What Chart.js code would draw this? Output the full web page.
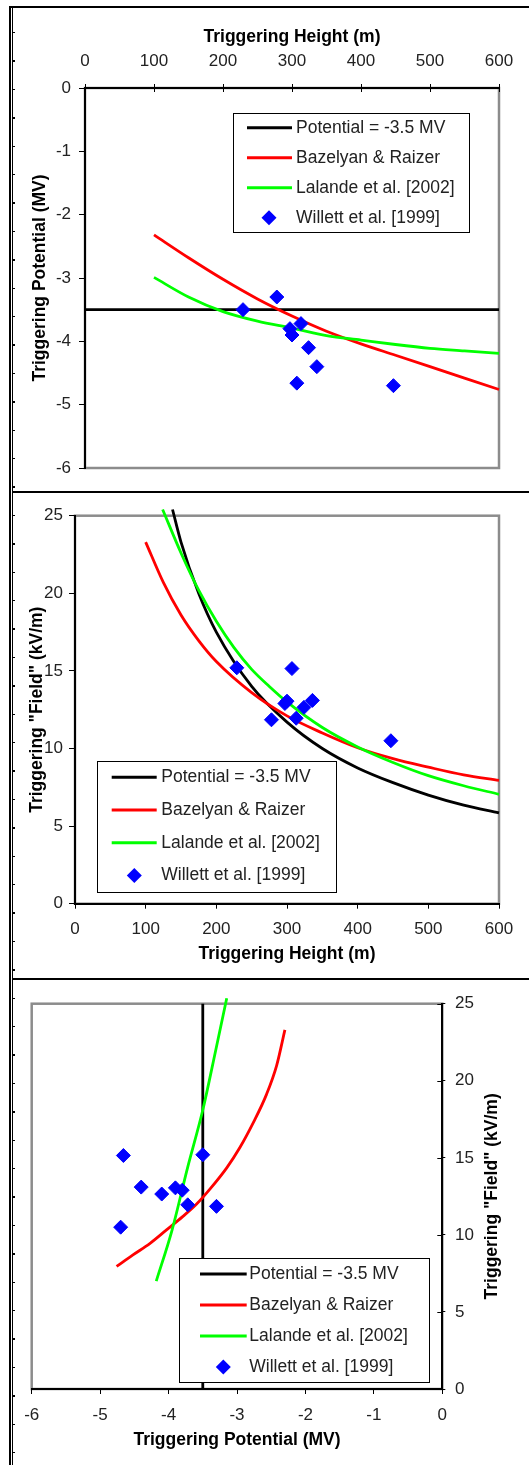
<!DOCTYPE html>
<html>
<head>
<meta charset="utf-8">
<script src="https://cdn.jsdelivr.net/npm/chart.js@4.4.1/dist/chart.umd.min.js"></script>
<style>
  html, body { margin: 0; padding: 0; background: #fff; }
  #page { position: relative; width: 529px; height: 1465px; overflow: hidden; background: #fff; }
  canvas { position: absolute; left: 0; }
  #c1 { top: 0; }
  #c2 { top: 492px; }
  #c3 { top: 980px; }
  .rule { position: absolute; background: #000; }
  #ruler { position: absolute; left: 12px; top: 8px; width: 3px; height: 1457px;
    background: repeating-linear-gradient(to bottom, transparent 0, transparent 24px, #000 24px, #000 25.4px, transparent 25.4px, transparent 28.4px); }
</style>
</head>
<body>
<div id="page">
  <canvas id="c1" width="529" height="490"></canvas>
  <canvas id="c2" width="529" height="486"></canvas>
  <canvas id="c3" width="529" height="485"></canvas>
  <div class="rule" style="left:9px;top:6px;width:520px;height:2px"></div>
  <div class="rule" style="left:9px;top:6px;width:2px;height:1459px"></div>
  <div class="rule" style="left:12px;top:8px;width:1px;height:1457px"></div>
  <div id="ruler"></div>
  <div class="rule" style="left:12px;top:491px;width:517px;height:1.5px"></div>
  <div class="rule" style="left:12px;top:978px;width:517px;height:1.5px"></div>
</div>
<script>
// --- panel 1: triggering potential vs height ---
const potHeights = [100, 150, 200, 250, 300, 350, 400, 450, 500, 550, 600];
const bazelyanPot = [-2.32, -2.68, -3.02, -3.33, -3.60, -3.84, -4.04, -4.22, -4.40, -4.58, -4.76];
const lalandePot = [-2.99, -3.30, -3.53, -3.68, -3.79, -3.91, -3.98, -4.05, -4.11, -4.15, -4.19];
const constPotHeights = [0, 600];
const constPot = [-3.5, -3.5];

// --- panel 2: triggering field vs height ---
const bazelyanFieldHeights = [100, 125, 150, 175, 200, 250, 300, 350, 400, 450, 500, 550, 600];
const bazelyanField = [23.3, 20.7, 18.6, 16.95, 15.6, 13.6, 12.1, 11.0, 10.05, 9.35, 8.8, 8.3, 7.95];
const lalandeFieldHeights = [124, 150, 175, 200, 225, 250, 275, 300, 350, 400, 450, 500, 550, 600];
const lalandeField = [25.4, 22.6, 20.2, 18.2, 16.5, 15.1, 14.0, 13.0, 11.35, 10.1, 9.1, 8.25, 7.6, 7.05];
const constFieldHeights = [138, 150, 175, 200, 250, 300, 350, 400, 450, 500, 550, 600];
const constField = [25.4, 23.3, 20.0, 17.5, 14.0, 11.7, 10.0, 8.75, 7.8, 7.0, 6.35, 5.85];

// --- panel 3: field vs potential ---
const bazelyanCurvePot = [-4.76, -4.52, -4.27, -4.03, -3.79, -3.59, -3.39, -3.15, -2.96, -2.76, -2.57, -2.42, -2.30];
const bazelyanCurveField = [7.95, 8.70, 9.45, 10.32, 11.2, 12.0, 13.0, 14.35, 15.65, 17.3, 19.1, 21.0, 23.3];
const lalandeCurvePot = [-4.18, -3.95, -3.72, -3.50, -3.31, -3.15];
const lalandeCurveField = [7.0, 10.3, 14.4, 18.1, 22.0, 25.35];
const constLinePot = [-3.5, -3.5];
const constLineField = [0, 25];

// --- Willett et al. [1999] measurements ---
const willettHeight = [229, 278, 297, 300, 313, 324, 336, 307, 447];
const willettPotential = [-3.50, -3.30, -3.80, -3.90, -3.72, -4.10, -4.40, -4.66, -4.70];
const willettField = [15.2, 11.85, 12.9, 13.05, 11.95, 12.65, 13.1, 15.15, 10.5];

const labels = ['Potential = -3.5 MV', 'Bazelyan & Raizer', 'Lalande et al. [2002]', 'Willett et al. [1999]'];
const colores = { negro: '#000000', rojo: '#ff0000', verde: '#00ff00', azul: '#0000ff' };
const fuente = '"Liberation Sans", Arial, sans-serif';

Chart.defaults.font.family = fuente;

const xy = (xs, ys) => xs.map((x, i) => ({ x: x, y: ys[i] }));

function lineSet(label, pts, color, order) {
  return {
    label, data: pts, showLine: true, borderColor: color, backgroundColor: color,
    borderWidth: 2.8, pointRadius: 0, cubicInterpolationMode: 'monotone', clip: false, order
  };
}

function pointSet(label, pts) {
  return {
    label, data: pts, showLine: false, pointStyle: 'rectRot', pointRadius: 7,
    pointBorderWidth: 1, pointBackgroundColor: colores.azul, pointBorderColor: colores.azul,
    backgroundColor: colores.azul, borderColor: colores.azul, clip: false, order: 0
  };
}

function axis(o) {
  return {
    type: 'linear', position: o.position, min: o.min, max: o.max,
    afterFit: s => { if (s.isHorizontal()) s.height = o.size; else s.width = o.size; },
    border: { display: true, color: '#000', width: 2 },
    grid: { display: true, drawOnChartArea: false, drawTicks: true, tickLength: o.tickLen, color: '#000', lineWidth: 1 },
    ticks: { stepSize: o.step, padding: o.tickPad, color: '#222', font: { size: 17 }, maxRotation: 0, autoSkip: false },
    title: o.title
      ? { display: true, text: o.title, color: '#000', font: { size: 17.5, weight: 'bold' }, padding: o.titlePad }
      : { display: false }
  };
}

// gray plot-area frame (axes are drawn over it in black)
const plotFrame = {
  id: 'plotFrame',
  beforeDraw(chart) {
    const a = chart.chartArea, ctx = chart.ctx;
    ctx.save();
    ctx.strokeStyle = '#8c8c8c';
    ctx.lineWidth = 2.5;
    ctx.strokeRect(a.left, a.top, a.right - a.left, a.bottom - a.top);
    ctx.restore();
  }
};

// tick marks that cross into the plot area
const innerTicks = {
  id: 'innerTicks',
  afterDraw(chart, args, opts) {
    if (!opts.axes) return;
    const ctx = chart.ctx, a = chart.chartArea;
    ctx.save();
    ctx.strokeStyle = '#000';
    ctx.lineWidth = 1;
    opts.axes.forEach(id => {
      const s = chart.scales[id];
      s.ticks.forEach((t, i) => {
        const p = Math.round(s.getPixelForTick(i)) + 0.5;
        ctx.beginPath();
        if (s.isHorizontal()) {
          const y0 = s.position === 'top' ? a.top : a.bottom;
          const dir = s.position === 'top' ? 1 : -1;
          ctx.moveTo(p, y0);
          ctx.lineTo(p, y0 + dir * opts.length);
        } else {
          const x0 = s.position === 'right' ? a.right : a.left;
          const dir = s.position === 'right' ? -1 : 1;
          ctx.moveTo(x0, p);
          ctx.lineTo(x0 + dir * opts.length, p);
        }
        ctx.stroke();
      });
    });
    ctx.restore();
  }
};

function diamond(ctx, x, y, r) {
  ctx.beginPath();
  ctx.moveTo(x - r, y);
  ctx.lineTo(x, y - r);
  ctx.lineTo(x + r, y);
  ctx.lineTo(x, y + r);
  ctx.closePath();
  ctx.fill();
}

// boxed legend placed inside the plot like the Excel original
const boxLegend = {
  id: 'boxLegend',
  afterDatasetsDraw(chart, args, o) {
    if (o.x === undefined) return;
    const ctx = chart.ctx;
    ctx.save();
    ctx.fillStyle = '#fff';
    ctx.fillRect(o.x, o.y, o.w, o.h);
    ctx.strokeStyle = '#000';
    ctx.lineWidth = 1;
    ctx.strokeRect(Math.round(o.x) + 0.5, Math.round(o.y) + 0.5, Math.round(o.w), Math.round(o.h));
    ctx.font = '17.5px ' + fuente;
    ctx.textBaseline = 'middle';
    ctx.textAlign = 'left';
    chart.data.datasets.forEach((ds, i) => {
      const y = o.y + o.first + i * o.step;
      if (ds.showLine) {
        ctx.strokeStyle = ds.borderColor;
        ctx.lineWidth = 3;
        ctx.beginPath();
        ctx.moveTo(o.lineX1, y);
        ctx.lineTo(o.lineX2, y);
        ctx.stroke();
      } else {
        ctx.fillStyle = ds.pointBackgroundColor;
        diamond(ctx, o.markerX, y, 7.5);
      }
      ctx.fillStyle = '#222';
      ctx.fillText(ds.label, o.textX, y);
    });
    ctx.restore();
  }
};

// right-hand axis title that reads bottom-to-top
const sideTitle = {
  id: 'sideTitle',
  afterDraw(chart, args, o) {
    if (!o.text) return;
    const ctx = chart.ctx, a = chart.chartArea;
    ctx.save();
    ctx.translate(o.x, (a.top + a.bottom) / 2);
    ctx.rotate(-Math.PI / 2);
    ctx.font = 'bold 17.5px ' + fuente;
    ctx.fillStyle = '#000';
    ctx.textAlign = 'center';
    ctx.textBaseline = 'middle';
    ctx.fillText(o.text, 0, 0);
    ctx.restore();
  }
};

const basePlugins = [plotFrame, boxLegend, innerTicks, sideTitle];

// panel 1
new Chart(document.getElementById('c1'), {
  type: 'scatter',
  data: {
    datasets: [
      lineSet(labels[0], xy(constPotHeights, constPot), colores.negro, 3),
      lineSet(labels[1], xy(potHeights, bazelyanPot), colores.rojo, 2),
      lineSet(labels[2], xy(potHeights, lalandePot), colores.verde, 1),
      pointSet(labels[3], xy(willettHeight, willettPotential))
    ]
  },
  options: {
    responsive: false, animation: false,
    layout: { padding: { left: 0, right: 30, top: 0, bottom: 22 } },
    scales: {
      x: axis({ position: 'top', min: 0, max: 600, step: 100, size: 88, tickLen: 4, tickPad: 12,
        title: 'Triggering Height (m)', titlePad: { top: 26.5, bottom: 0 } }),
      y: axis({ position: 'left', min: -6, max: 0, step: 1, size: 85, tickLen: 6, tickPad: 8,
        title: 'Triggering Potential (MV)', titlePad: { top: 30, bottom: 0 } })
    },
    plugins: {
      legend: { display: false }, tooltip: { enabled: false },
      boxLegend: { x: 233, y: 113, w: 236, h: 119, first: 14.7, step: 30, lineX1: 247, lineX2: 292, markerX: 269, textX: 296 },
      innerTicks: { axes: ['x'], length: 4 },
      sideTitle: {}
    }
  },
  plugins: basePlugins
});

// panel 2
new Chart(document.getElementById('c2'), {
  type: 'scatter',
  data: {
    datasets: [
      lineSet(labels[0], xy(constFieldHeights, constField), colores.negro, 3),
      lineSet(labels[1], xy(bazelyanFieldHeights, bazelyanField), colores.rojo, 2),
      lineSet(labels[2], xy(lalandeFieldHeights, lalandeField), colores.verde, 1),
      pointSet(labels[3], xy(willettHeight, willettField))
    ]
  },
  options: {
    responsive: false, animation: false,
    layout: { padding: { left: 0, right: 30, top: 23.7, bottom: 0 } },
    scales: {
      x: axis({ position: 'bottom', min: 0, max: 600, step: 100, size: 74.3, tickLen: 5, tickPad: 10,
        title: 'Triggering Height (m)', titlePad: { top: 0, bottom: 13.8 } }),
      y: axis({ position: 'left', min: 0, max: 25, step: 5, size: 75, tickLen: 6, tickPad: 6,
        title: 'Triggering "Field" (kV/m)', titlePad: { top: 26.8, bottom: 0 } })
    },
    plugins: {
      legend: { display: false }, tooltip: { enabled: false },
      boxLegend: { x: 97, y: 269, w: 239, h: 131, first: 16.3, step: 32.7, lineX1: 111.7, lineX2: 156.7, markerX: 134.3, textX: 161.3 },
      innerTicks: {},
      sideTitle: {}
    }
  },
  plugins: basePlugins
});

// panel 3
new Chart(document.getElementById('c3'), {
  type: 'scatter',
  data: {
    datasets: [
      lineSet(labels[0], xy(constLinePot, constLineField), colores.negro, 3),
      lineSet(labels[1], xy(bazelyanCurvePot, bazelyanCurveField), colores.rojo, 2),
      lineSet(labels[2], xy(lalandeCurvePot, lalandeCurveField), colores.verde, 1),
      pointSet(labels[3], xy(willettPotential, willettField))
    ]
  },
  options: {
    responsive: false, animation: false,
    layout: { padding: { left: 31.7, right: 0, top: 23.7, bottom: 0 } },
    scales: {
      x: axis({ position: 'bottom', min: -6, max: 0, step: 1, size: 76, tickLen: 5, tickPad: 10.8,
        title: 'Triggering Potential (MV)', titlePad: { top: 0, bottom: 14.8 } }),
      y: axis({ position: 'right', min: 0, max: 25, step: 5, size: 86.7, tickLen: 3, tickPad: 9.7 })
    },
    plugins: {
      legend: { display: false }, tooltip: { enabled: false },
      boxLegend: { x: 179.3, y: 278.3, w: 249.7, h: 124, first: 15.7, step: 31, lineX1: 200, lineX2: 246.7, markerX: 223.3, textX: 249.3 },
      innerTicks: { axes: ['y'], length: 5 },
      sideTitle: { text: 'Triggering "Field" (kV/m)', x: 492 }
    }
  },
  plugins: basePlugins
});
</script>
</body>
</html>
